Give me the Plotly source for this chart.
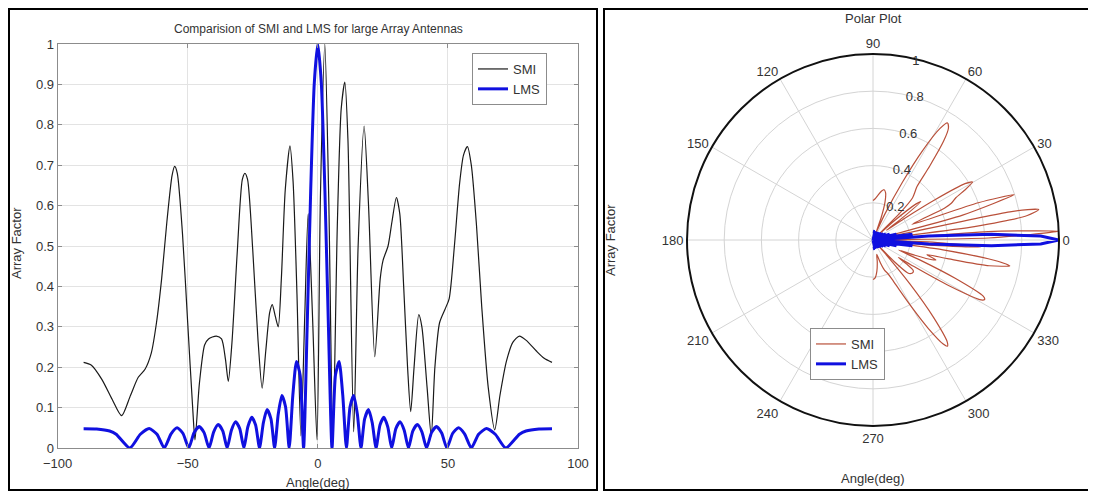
import plotly.graph_objects as go

# ---------------- data ----------------
smi_angle = [-90, -87, -83, -79, -75.4, -72, -69, -66.4, -64, -62, -60, -58, -56, -55, -54, -52, -50, -48,
             -47.2, -45.5, -43.5, -42, -39, -37, -35.5, -34.4, -33, -31, -29, -28, -27, -25, -23, -21.4,
             -20, -18.5, -17.5, -16.3, -15.2, -14, -12.5, -10.7, -9.5, -8, -6.5, -5, -3.7, -2, -0.3, 1,
             2.7, 4.2, 5.8, 7.5, 9, 10.4, 11.6, 13.8, 15.5, 17.8, 19.5, 21.9, 24, 25.1, 27, 28.5, 30.2,
             31.5, 33, 34.5, 35.7, 37, 38.8, 40, 42, 43.6, 45, 46.8, 49, 50.5, 52.5, 54.5, 56, 57.5, 59,
             61, 63, 65.5, 68, 70, 72.5, 75, 77.5, 80, 84, 87, 90]
smi_value = [0.212, 0.205, 0.17, 0.12, 0.08, 0.13, 0.175, 0.195, 0.235, 0.31, 0.42, 0.56, 0.675, 0.697,
             0.68, 0.53, 0.31, 0.09, 0.02, 0.16, 0.255, 0.27, 0.277, 0.27, 0.22, 0.165, 0.26, 0.48, 0.665,
             0.68, 0.665, 0.49, 0.27, 0.148, 0.24, 0.335, 0.355, 0.325, 0.30, 0.42, 0.64, 0.748, 0.66,
             0.38, 0.03, 0.33, 0.58, 0.32, 0.02, 0.62, 1.0, 0.62, 0.02, 0.55, 0.84, 0.906, 0.76, 0.04,
             0.5, 0.797, 0.6, 0.226, 0.42, 0.465, 0.5, 0.56, 0.62, 0.58, 0.4, 0.2, 0.09, 0.2, 0.33, 0.3,
             0.15, 0.03, 0.2, 0.31, 0.345, 0.37, 0.5, 0.655, 0.725, 0.746, 0.7, 0.55, 0.35, 0.15, 0.045,
             0.13, 0.215, 0.262, 0.277, 0.267, 0.24, 0.222, 0.212]

lms_angle = [-90, -85, -80, -77.5, -72.25, -68.2, -64.8, -61.8, -59, -56.4, -54.05, -51.8, -49.6, -47.6,
             -45.6, -43.7, -41.8, -40, -38.25, -36.5, -34.85, -33.2, -31.6, -30, -28.4, -26.9, -25.4,
             -23.9, -22.4, -20.9, -19.5, -18, -16.6, -15.2, -13.8, -12.4, -11, -9.6, -8.2, -6.8, -5.46,
             -4.09, -2.73, -1.36, 0,
             1.36, 2.73, 4.09, 5.46, 6.8, 8.2, 9.6, 11, 12.4, 13.8, 15.2, 16.6, 18, 19.5, 20.9, 22.4,
             23.9, 25.4, 26.9, 28.4, 30, 31.6, 33.2, 34.85, 36.5, 38.25, 40, 41.8, 43.7, 45.6, 47.6,
             49.6, 51.8, 54.05, 56.4, 59, 61.8, 64.8, 68.2, 72.25, 77.5, 80, 85, 90]
lms_value = [0.0476, 0.047, 0.042, 0.034, 0.0, 0.034, 0.048, 0.034, 0.0, 0.035, 0.05, 0.036, 0.0, 0.037,
             0.053, 0.038, 0.0, 0.040, 0.058, 0.042, 0.0, 0.044, 0.065, 0.048, 0.0, 0.052, 0.076, 0.057,
             0.0, 0.063, 0.095, 0.072, 0.0, 0.084, 0.130, 0.102, 0.0, 0.130, 0.214, 0.181, 0.0, 0.30,
             0.638, 0.902, 1.0,
             0.902, 0.638, 0.30, 0.0, 0.181, 0.214, 0.130, 0.0, 0.102, 0.130, 0.084, 0.0, 0.072, 0.095,
             0.063, 0.0, 0.057, 0.076, 0.052, 0.0, 0.048, 0.065, 0.044, 0.0, 0.042, 0.058, 0.040, 0.0,
             0.038, 0.053, 0.037, 0.0, 0.036, 0.05, 0.035, 0.0, 0.034, 0.048, 0.034, 0.0, 0.034, 0.042,
             0.047, 0.0476]

y_ticks = [0, 0.1, 0.2, 0.3, 0.4, 0.5, 0.6, 0.7, 0.8, 0.9, 1]
y_ticktext = ["0", "0.1", "0.2", "0.3", "0.4", "0.5", "0.6", "0.7", "0.8", "0.9", "1"]
x_ticks = [-100, -50, 0, 50, 100]
theta_ticks = [0, 30, 60, 90, 120, 150, 180, 210, 240, 270, 300, 330]
r_ticks = [0.2, 0.4, 0.6, 0.8, 1]
r_ticktext = ["0.2", "0.4", "0.6", "0.8", "1"]

# ---------------- figure ----------------
OFF = 8                      # page body margin of the html page
W, H = 1096 - OFF, 492 - OFF
FONT = "Arial, Liberation Sans, sans-serif"
TXT = "#333333"


def px(x):
    return (x - OFF) / W


def py(y):
    return 1 - (y - OFF) / H


fig = go.Figure()

fig.add_trace(go.Scatter(x=smi_angle, y=smi_value, mode="lines", name="SMI",
                         line=dict(color="#1a1a1a", width=1.2, shape="spline", smoothing=0.7),
                         legend="legend"))
fig.add_trace(go.Scatter(x=lms_angle, y=lms_value, mode="lines", name="LMS",
                         line=dict(color="#1010e0", width=3, shape="spline", smoothing=0.6),
                         legend="legend"))

fig.add_trace(go.Scatterpolar(theta=smi_angle, r=smi_value, mode="lines", name="SMI",
                              line=dict(color="#b9503a", width=1.2, shape="spline", smoothing=0.7),
                              legend="legend2", subplot="polar"))
fig.add_trace(go.Scatterpolar(theta=lms_angle, r=lms_value, mode="lines", name="LMS",
                              line=dict(color="#1010e0", width=3), legend="legend2", subplot="polar"))

cx, cy, rad = 873, 240, 186

fig.update_layout(
    width=W, height=H,
    margin=dict(l=0, r=0, t=0, b=0, autoexpand=False),
    paper_bgcolor="white", plot_bgcolor="white",
    font=dict(family=FONT, size=12, color=TXT),
    xaxis=dict(domain=[px(57.6), px(578)], range=[-100, 100], tickvals=x_ticks,
               showgrid=True, gridcolor="#e3e3e3", zeroline=False, automargin=False,
               showline=True, linecolor="#8c8c8c", linewidth=1, mirror="ticks",
               ticks="inside", ticklen=4, tickcolor="#8c8c8c", ticklabelstandoff=3,
               tickfont=dict(size=13, color=TXT)),
    yaxis=dict(domain=[py(448), py(44)], range=[0, 1], tickvals=y_ticks, ticktext=y_ticktext,
               showgrid=True, gridcolor="#e3e3e3", zeroline=False, automargin=False,
               showline=True, linecolor="#8c8c8c", linewidth=1, mirror="ticks",
               ticks="inside", ticklen=4, tickcolor="#8c8c8c",
               tickfont=dict(size=13, color=TXT)),
    polar=dict(
        domain=dict(x=[px(cx - rad), px(cx + rad)], y=[py(cy + rad), py(cy - rad)]),
        bgcolor="white",
        radialaxis=dict(range=[0, 1], tickvals=r_ticks, ticktext=r_ticktext, angle=80,
                        tickangle=80, side="clockwise",
                        showline=False, ticks="", gridcolor="#d4d4d4",
                        tickfont=dict(size=13, color=TXT)),
        angularaxis=dict(tickvals=theta_ticks, direction="counterclockwise", rotation=0,
                         showline=True, linecolor="#111111", linewidth=2, ticks="",
                         gridcolor="#d4d4d4", tickfont=dict(size=13, color=TXT)),
    ),
    legend=dict(x=px(472), y=py(53), xanchor="left", yanchor="top",
                bgcolor="white", bordercolor="#8c8c8c", borderwidth=1,
                font=dict(size=13, color=TXT), tracegroupgap=0, itemwidth=30),
    legend2=dict(x=px(810), y=py(328), xanchor="left", yanchor="top",
                 bgcolor="white", bordercolor="#8c8c8c", borderwidth=1,
                 font=dict(size=13, color=TXT), tracegroupgap=0, itemwidth=30),
    showlegend=True,
)

annotations = [
    dict(text="Comparision of SMI and LMS for large Array Antennas", x=px(318), y=py(29),
         font=dict(size=12, color=TXT)),
    dict(text="Angle(deg)", x=px(318), y=py(482), font=dict(size=13, color=TXT)),
    dict(text="Array Factor", x=px(16), y=py(243), textangle=-90, font=dict(size=13, color=TXT)),
    dict(text="Polar Plot", x=px(873), y=py(18), font=dict(size=13, color=TXT)),
    dict(text="Angle(deg)", x=px(873), y=py(478), font=dict(size=13, color=TXT)),
    dict(text="Array Factor", x=px(611), y=py(240), textangle=-90, font=dict(size=13, color=TXT)),
]
for a in annotations:
    a.update(xref="paper", yref="paper", showarrow=False, xanchor="center", yanchor="middle")
fig.update_layout(annotations=annotations)

shapes = [
    dict(type="rect", xref="paper", yref="paper", x0=px(9), x1=px(597), y0=py(490), y1=py(9),
         line=dict(color="black", width=2)),
    dict(type="rect", xref="paper", yref="paper", x0=px(604), x1=px(1094), y0=py(490), y1=py(9),
         line=dict(color="black", width=2)),
]
fig.update_layout(shapes=shapes)

fig.write_html("out.html")
